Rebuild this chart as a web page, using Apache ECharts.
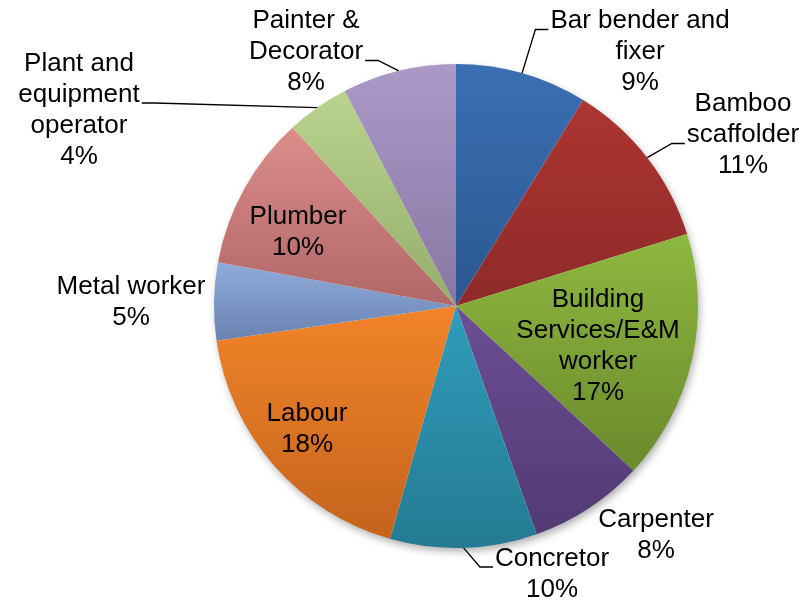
<!DOCTYPE html>
<html>
<head>
<meta charset="utf-8">
<script src="https://cdn.jsdelivr.net/npm/echarts@6/dist/echarts.min.js"></script>
<style>
html,body{margin:0;padding:0;background:#fff;}
#chart{width:809px;height:601px;}
</style>
</head>
<body>
<div id="chart"></div>
<script>
// trades, clockwise from 12 o'clock
var trades = [
	'Bar bender and\nfixer',
	'Bamboo\nscaffolder',
	'Building\nServices/E&M\nworker',
	'Carpenter',
	'Concretor',
	'Labour',
	'Metal worker',
	'Plumber',
	'Plant and\nequipment\noperator',
	'Painter &\nDecorator'
];
// share of workers (%)
var shares = [8.8, 11.4, 16.7, 7.7, 9.8, 18.3, 5.2, 10.3, 4.2, 7.6];
// percent text printed on the chart
var pctLabels = ['9%', '11%', '17%', '8%', '10%', '18%', '5%', '10%', '4%', '8%'];

// slice colours: [top, bottom] of the vertical gradient
var colours = [
	['#3b70b4', '#2b5790'],
	['#ad3532', '#8e2a28'],
	['#8db83f', '#6a8a2c'],
	['#6c4e95', '#523a73'],
	['#2f9dbb', '#257a93'],
	['#f28429', '#c4631d'],
	['#8eacdb', '#6983b0'],
	['#dc8d8c', '#b06766'],
	['#bad48f', '#95ad6a'],
	['#ab99c7', '#8877a3']
];

var CX = 456, CY = 306, R = 242;
var LINE_H = 31;
// label block centre, and which text line the leader hooks onto (-1 = no leader)
var labelPos = [
	[640, 52, 0],
	[743, 135, 1],
	[598, 346, -1],
	[656, 535, -1],
	[552, 574, 0],
	[307, 429, -1],
	[131, 302, -1],
	[298, 232, -1],
	[79, 110, 1],
	[306, 52, 1]
];

var data = [];
for (var i = 0; i < trades.length; i++) {
	data.push({
		name: trades[i],
		value: shares[i],
		pct: pctLabels[i],
		itemStyle: {
			color: new echarts.graphic.LinearGradient(0, 0, 0, 1, [
				{offset: 0, color: colours[i][0]},
				{offset: 1, color: colours[i][1]}
			])
		},
		labelLine: {show: labelPos[i][2] >= 0}
	});
}

// point on the rim at the middle of slice i (fallback if echarts gives none)
function rimPoint(idx) {
	var tot = 0, before = 0;
	for (var k = 0; k < shares.length; k++) {
		tot += shares[k];
		if (k < idx) before += shares[k];
	}
	var a = (before + shares[idx] / 2) / tot * Math.PI * 2;
	return [CX + R * Math.sin(a), CY - R * Math.cos(a)];
}

var myChart = echarts.init(document.getElementById('chart'));
var option = {
	animation: false,
	series: [
		{
			// plain disc underneath, only there to cast the soft shadow
			type: 'pie',
			silent: true,
			center: [CX, CY],
			radius: R - 1,
			label: {show: false},
			labelLine: {show: false},
			itemStyle: {
				color: '#ffffff',
				shadowBlur: 8,
				shadowOffsetX: 2,
				shadowOffsetY: 4,
				shadowColor: 'rgba(0,0,0,0.35)'
			},
			data: [{value: 1, name: ''}]
		},
		{
			type: 'pie',
			center: [CX, CY],
			radius: R,
			startAngle: 90,
			clockwise: true,
			avoidLabelOverlap: false,
			label: {
				show: true,
				position: 'outside',
				color: '#000',
				fontFamily: 'Liberation Sans, Arial, sans-serif',
				fontSize: 26,
				lineHeight: LINE_H,
				align: 'center',
				formatter: function (p) {
					return p.name + '\n' + p.data.pct;
				}
			},
			labelLine: {
				show: true,
				lineStyle: {color: '#000', width: 1.3}
			},
			labelLayout: function (p) {
				var pos = labelPos[p.dataIndex];
				var out = {
					x: pos[0],
					y: pos[1],
					align: 'center',
					verticalAlign: 'middle'
				};
				if (pos[2] >= 0) {
					var rim = (p.labelLinePoints && p.labelLinePoints[0]) || rimPoint(p.dataIndex);
					var w = (p.labelRect || p.rect).width;
					var h = (p.labelRect || p.rect).height;
					var top = pos[1] - h / 2;
					var ly = top + (pos[2] + 1) * LINE_H - 7;
					var side = rim[0] < pos[0] ? -1 : 1;
					var ex = pos[0] + side * (w / 2 + 2);
					out.labelLinePoints = [
						[rim[0], rim[1]],
						[ex + side * 13, ly],
						[ex, ly]
					];
				}
				return out;
			},
			data: data
		}
	]
};
myChart.setOption(option);
</script>
</body>
</html>
